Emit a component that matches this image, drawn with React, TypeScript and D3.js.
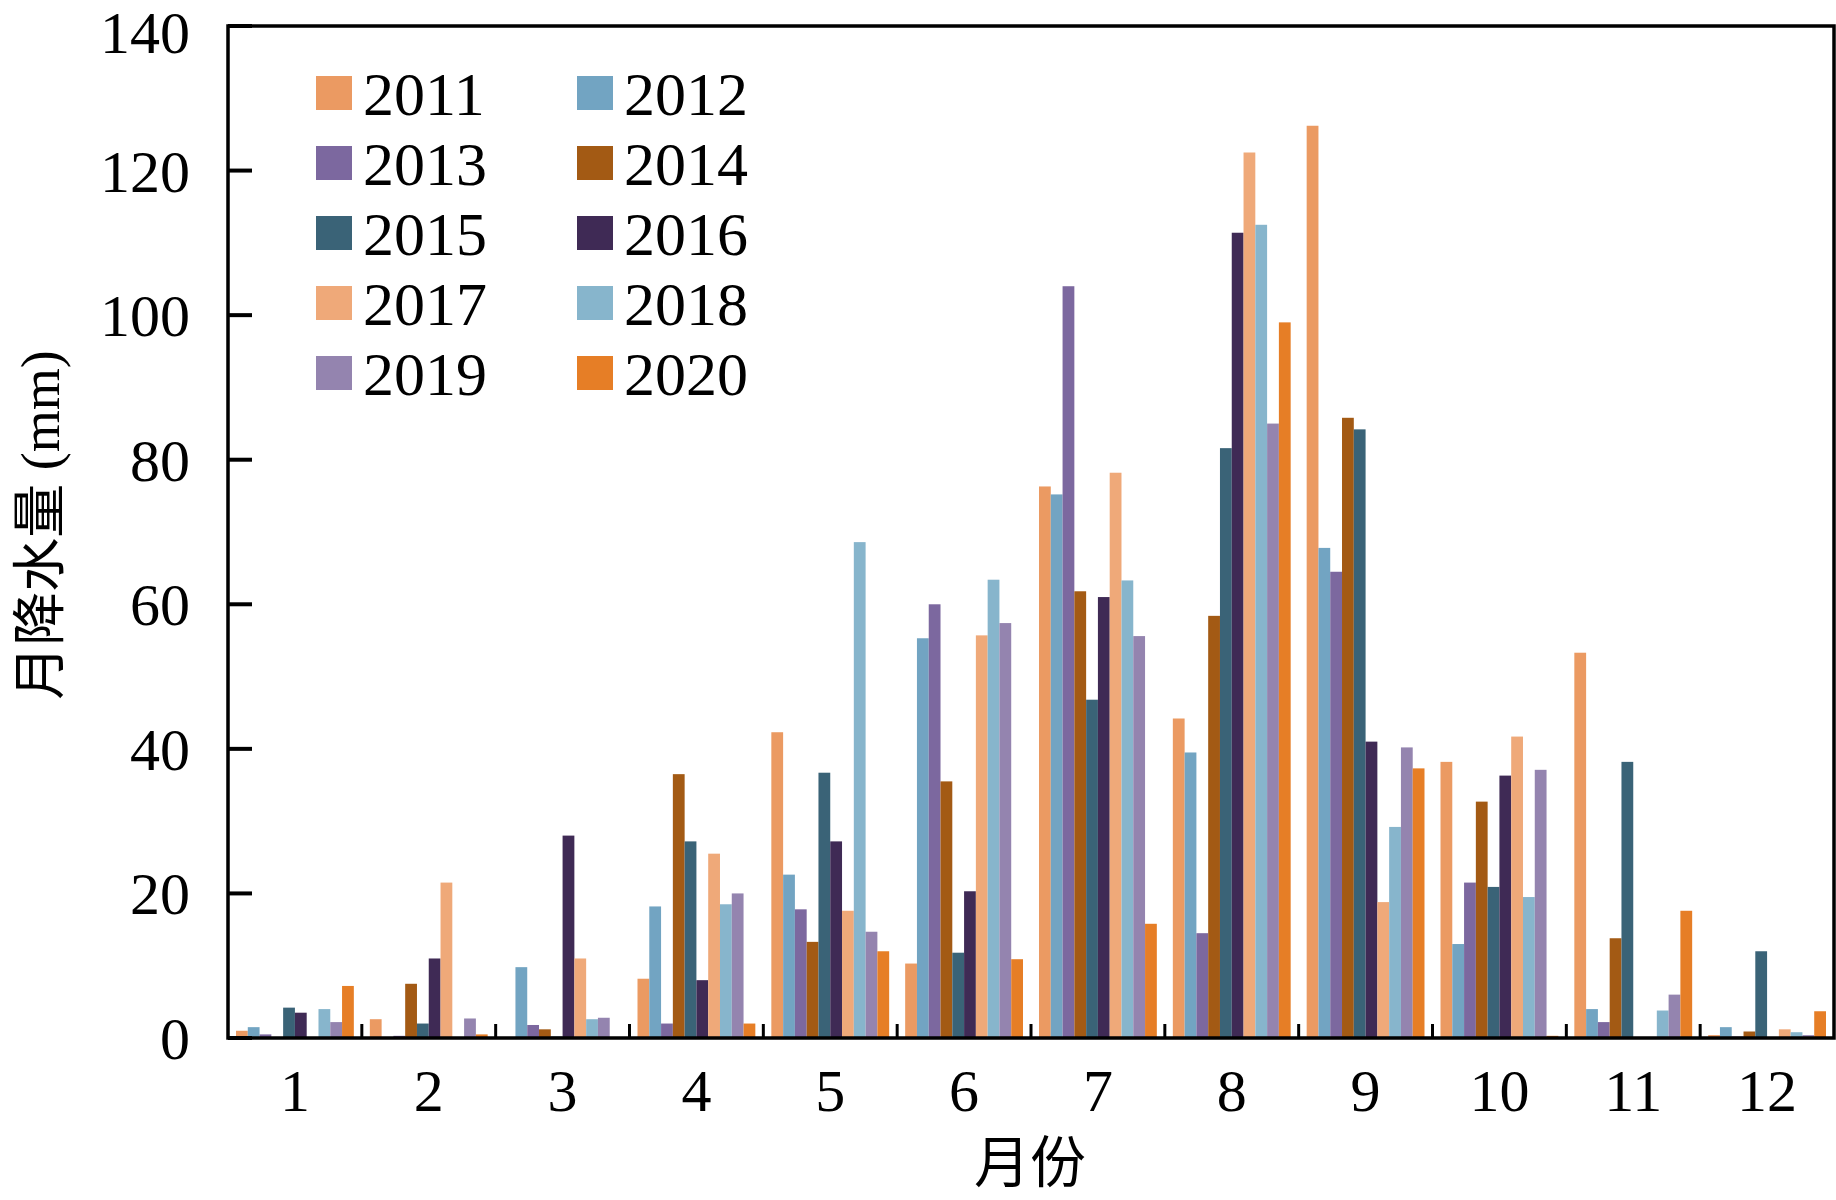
import React from "react";
import * as d3 from "d3";

const months = ["1","2","3","4","5","6","7","8","9","10","11","12"];
const years = ["2011","2012","2013","2014","2015","2016","2017","2018","2019","2020"];
const colors = ["#EB9A62","#72A4C2","#7C689F","#A35A14","#3A6377","#3F2A55","#EFA979","#87B5CC","#9484AF","#E67E26"];
// values[month][year]
const values = [
  [1,1.5,0.5,0,4.2,3.5,0,4,2.2,7.2],
  [2.6,0,0.3,7.5,2,11,21.5,0,2.7,0.5],
  [0,9.8,1.8,1.2,0.2,28,11,2.6,2.8,0],
  [8.2,18.2,2,36.5,27.2,8,25.5,18.5,20,2],
  [42.3,22.6,17.8,13.3,36.7,27.2,17.6,68.6,14.7,12],
  [10.3,55.3,60,35.5,11.8,20.3,55.7,63.4,57.4,10.9],
  [76.3,75.2,104,61.8,46.8,61,78.2,63.3,55.6,15.8],
  [44.2,39.5,14.5,58.4,81.6,111.4,122.5,112.5,85,99],
  [126.2,67.8,64.5,85.8,84.2,41,18.8,29.2,40.2,37.3],
  [38.2,13,21.5,32.7,20.9,36.3,41.7,19.5,37.1,0.3],
  [53.3,4,2.2,13.8,38.2,0,0,3.8,6,17.6],
  [0.4,1.5,0.2,0.9,12,0,1.2,0.8,0.4,3.7],
];
const yTicks = [0,20,40,60,80,100,120,140];

export default function App() {
  const L = 228, R = 1834, T = 26, B = 1038;
  const x = d3.scaleBand().domain(months).range([L, R]).paddingInner(0).paddingOuter(0);
  const inner = d3.scaleBand().domain(years).range([8, x.bandwidth() - 8]).padding(0);
  const y = d3.scaleLinear().domain([0, 140]).range([B, T]);
  const font = "Liberation Serif, Times New Roman, Times, serif";
  return (
    <svg width={1836} height={1200} style={{ position: "absolute", left: 0, top: 0, background: "#fff" }} fontFamily={font}>
      {values.map((row, mi) => row.map((v, yi) => (
        <rect key={mi + "-" + yi} x={(x(months[mi]) as number) + (inner(years[yi]) as number)} width={inner.bandwidth()}
          y={y(v)} height={B - y(v)} fill={colors[yi]} />
      )))}
      <rect x={L} y={T} width={R - L} height={B - T} fill="none" stroke="#000" strokeWidth={3.5} />
      {yTicks.map(t => (
        <g key={t}>
          <line x1={L} x2={L + 24} y1={y(t)} y2={y(t)} stroke="#000" strokeWidth={4} />
          <text x={190} y={Math.max(y(t), 32)} dy="0.35em" textAnchor="end" fontSize={60}>{t}</text>
        </g>
      ))}
      {months.map((m, i) => (
        <g key={m}>
          {i > 0 && <line x1={x(m)} x2={x(m)} y1={B} y2={B - 14} stroke="#000" strokeWidth={3} />}
          <text x={(x(m) as number) + x.bandwidth() / 2} y={1090} dy="0.35em" textAnchor="middle" fontSize={60}>{m}</text>
        </g>
      ))}
      <text x={1030} y={1162} dy="0.35em" textAnchor="middle" fontSize={56} fontFamily="Noto Sans CJK SC">月份</text>
      <text transform="translate(40,525) rotate(-90)" dy="0.35em" textAnchor="middle" fontSize={54}>
        <tspan fontFamily="Noto Sans CJK SC">月降水量</tspan> (mm)
      </text>
      {years.map((yr, i) => {
        const col = i % 2, row = Math.floor(i / 2);
        const sx = col === 0 ? 316 : 577;
        const cy = 93 + row * 70;
        return (
          <g key={yr}>
            <rect x={sx} y={cy - 17} width={36} height={34} fill={colors[i]} />
            <text x={sx + 47} y={cy} dy="0.35em" fontSize={62}>{yr}</text>
          </g>
        );
      })}
    </svg>
  );
}
